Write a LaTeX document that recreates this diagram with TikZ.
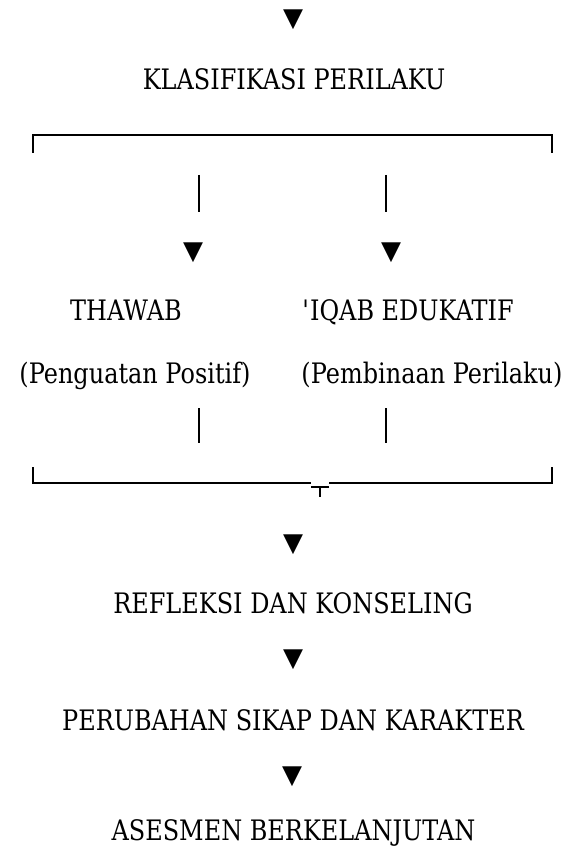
\documentclass[tikz,border=0pt]{standalone}
\usepackage{fontspec}
\setmainfont{DejaVu Serif}[FakeStretch=0.85]
\newfontfamily\trifont{DejaVu Sans}
\newlength{\du}
\setlength{\du}{10\unitlength}
\tikzset{
  lbl/.style={anchor=base,inner sep=0pt,font=\fontsize{28.2}{30}\selectfont},
  tri/.style={anchor=center,inner sep=0pt,font=\trifont\fontsize{26}{26}\selectfont}
}
\begin{document}
\begin{tikzpicture}
\pgftransformxscale{1.000000}
\pgftransformyscale{-1.000000}
\useasboundingbox (0.000000\du,0.000000\du) rectangle (57.000000\du,85.000000\du);
\definecolor{dialinecolor}{rgb}{0.000000, 0.000000, 0.000000}
\pgfsetstrokecolor{dialinecolor}
\pgfsetfillcolor{dialinecolor}
\pgfsetlinewidth{0.150000\du}
\pgfsetdash{}{0pt}
% setfont left to latex
\node[tri] (arr0) at (29.300000\du,2.000000\du){▼};
\node[lbl] (klas) at (29.400000\du,9.000000\du){KLASIFIKASI PERILAKU};
% top bracket
\coordinate (tbl) at (3.300000\du,15.300000\du);
\coordinate (ttl) at (3.300000\du,13.500000\du);
\coordinate (ttr) at (55.200000\du,13.500000\du);
\coordinate (tbr) at (55.200000\du,15.300000\du);
\draw (tbl)--(ttl)--(ttr)--(tbr);
\coordinate (lbar1) at (19.900000\du,17.500000\du);
\coordinate (lbar2) at (19.900000\du,21.200000\du);
\coordinate (rbar1) at (38.600000\du,17.500000\du);
\coordinate (rbar2) at (38.600000\du,21.200000\du);
\draw (lbar1)--(lbar2);
\draw (rbar1)--(rbar2);
\node[tri] (arrl) at (19.300000\du,25.250000\du){▼};
\node[tri] (arrr) at (39.100000\du,25.250000\du){▼};
% setfont left to latex
\node[lbl] (thawab) at (12.600000\du,32.000000\du){THAWAB};
\node[lbl] (iqab) at (40.800000\du,32.000000\du){\textquotesingle IQAB EDUKATIF};
\node[lbl] (posit) at (13.500000\du,38.300000\du){(Penguatan Positif)};
\node[lbl] (binaan) at (43.200000\du,38.300000\du){(Pembinaan Perilaku)};
\coordinate (lbar3) at (19.900000\du,40.800000\du);
\coordinate (lbar4) at (19.900000\du,44.300000\du);
\coordinate (rbar3) at (38.600000\du,40.800000\du);
\coordinate (rbar4) at (38.600000\du,44.300000\du);
\draw (lbar3)--(lbar4);
\draw (rbar3)--(rbar4);
% bottom bracket
\coordinate (btl) at (3.300000\du,46.700000\du);
\coordinate (bbl) at (3.300000\du,48.300000\du);
\coordinate (bgl) at (31.100000\du,48.300000\du);
\coordinate (bgr) at (32.900000\du,48.300000\du);
\coordinate (bbr) at (55.200000\du,48.300000\du);
\coordinate (btr) at (55.200000\du,46.700000\du);
\draw (btl)--(bbl)--(bgl);
\draw (bgr)--(bbr)--(btr);
\coordinate (tjl) at (31.100000\du,48.700000\du);
\coordinate (tjr) at (32.900000\du,48.700000\du);
\coordinate (tjm) at (32.000000\du,48.700000\du);
\coordinate (tjs) at (32.000000\du,49.700000\du);
\draw (tjl)--(tjr);
\draw (tjm)--(tjs);
% setfont left to latex
\node[tri] (arr1) at (29.300000\du,54.500000\du){▼};
\node[lbl] (refl) at (29.300000\du,61.300000\du){REFLEKSI DAN KONSELING};
\node[tri] (arr2) at (29.300000\du,66.000000\du){▼};
\node[lbl] (ubah) at (29.300000\du,73.000000\du){PERUBAHAN SIKAP DAN KARAKTER};
\node[tri] (arr3) at (29.200000\du,77.700000\du){▼};
\node[lbl] (ases) at (29.350000\du,84.000000\du){ASESMEN BERKELANJUTAN};
\end{tikzpicture}
\end{document}
